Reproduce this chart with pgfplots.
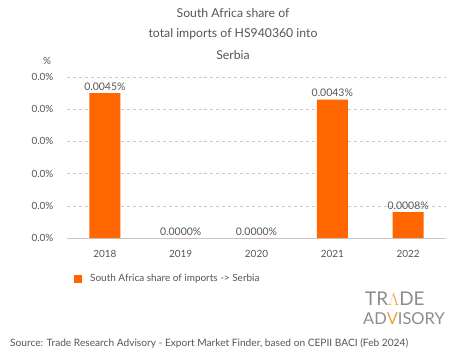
\documentclass[border=0pt]{standalone}
\usepackage{pgfplots}
\pgfplotsset{compat=1.18}
\usepackage{fontspec}
\setmainfont{Lato}
\definecolor{barorange}{HTML}{FF6600}
\definecolor{txtgrey}{HTML}{555555}
\definecolor{gridgrey}{HTML}{C8C8C8}
\definecolor{logogrey}{HTML}{8C8C8C}
\definecolor{logogold}{HTML}{F0A030}
\begin{document}
\begin{tikzpicture}[x=1bp,y=1bp]
\useasboundingbox (0,0) rectangle (465,359);
\begin{axis}[
  at={(67bp,121bp)}, anchor=south west,
  scale only axis, width=379bp, height=161bp,
  xmin=-0.5, xmax=4.5, ymin=0, ymax=0.005,
  scaled y ticks=false,
  ybar, bar width=31bp,
  xtick={0,1,2,3,4}, xticklabels={2018,2019,2020,2021,2022},
  ytick={0,0.001,0.002,0.003,0.004,0.005},
  yticklabels={0.0\%,0.0\%,0.0\%,0.0\%,0.0\%,0.0\%},
  ymajorgrids, grid style={gridgrey, dashed, line width=0.6pt},
  axis x line*=bottom, axis y line*=left,
  y axis line style={draw=none},
  x axis line style={gridgrey, line width=0.8pt},
  major tick length=0pt,
  tick label style={font=\fontsize{10}{12}\selectfont, text=txtgrey},
  xticklabel style={yshift=-9bp},
  yticklabel style={xshift=-10bp},
  point meta=explicit symbolic,
  nodes near coords,
  every node near coord/.append style={font=\fontsize{10.5}{12}\selectfont, text=txtgrey, yshift=-1bp},
  clip=false,
]
\addplot[fill=barorange, draw=none] coordinates {
  (0,0.0045) [0.0045\%]
  (1,0) [0.0000\%]
  (2,0) [0.0000\%]
  (3,0.0043) [0.0043\%]
  (4,0.0008) [0.0008\%]
};
\end{axis}
% y axis unit
\node[font=\fontsize{10}{12}\selectfont, text=txtgrey] at (47,298) {\%};
% title
\node[font=\fontsize{12.3}{14}\selectfont, text=txtgrey] at (233,346) {South Africa share of};
\node[font=\fontsize{12.3}{14}\selectfont, text=txtgrey] at (233,324.5) {total imports of HS940360 into};
\node[font=\fontsize{12.3}{14}\selectfont, text=txtgrey] at (233,304) {Serbia};
% legend
\fill[barorange] (74,76) rectangle (82,84);
\node[anchor=west, font=\fontsize{10}{12}\selectfont, text=txtgrey, inner sep=0pt] at (90,80.5) {South Africa share of imports -> Serbia};
% logo
\node[anchor=west, inner sep=0pt, font=\fontsize{19}{22}\selectfont, text=logogrey] at (365,60) {TR\textcolor{logogold}{$\Lambda$}DE};
\node[anchor=west, inner sep=0pt, font=\fontsize{16.5}{20}\selectfont, text=logogrey] at (363,40) {AD\textcolor{logogold}{V}ISORY};
% source
\node[anchor=west, inner sep=0pt, font=\fontsize{10.2}{12}\selectfont, text=txtgrey] at (10,16) {Source: Trade Research Advisory - Export Market Finder, based on CEPII BACI (Feb 2024)};
\end{tikzpicture}
\end{document}
